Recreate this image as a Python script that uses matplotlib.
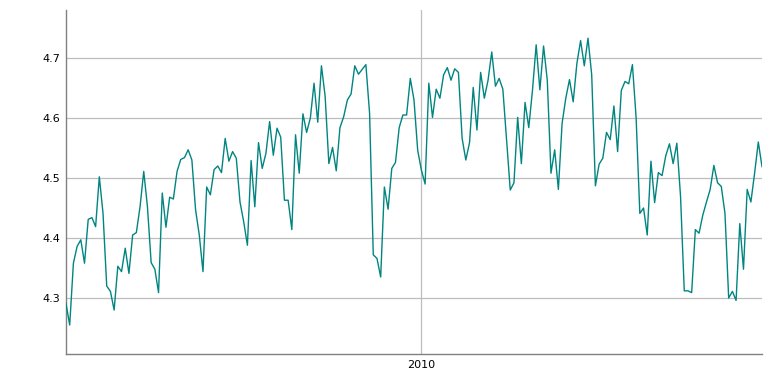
import matplotlib
matplotlib.use('Agg')
import matplotlib.pyplot as plt
import matplotlib.dates as mdates
import numpy as np
import pandas as pd

# weekly series
start_date = '2008-03-01'
values = [
    4.291, 4.255, 4.358, 4.386, 4.397, 4.358, 4.431, 4.434, 4.419, 4.502,
    4.441, 4.320, 4.311, 4.280, 4.353, 4.344, 4.383, 4.341, 4.405, 4.409,
    4.452, 4.511, 4.452, 4.359, 4.348, 4.309, 4.475, 4.418, 4.468, 4.465,
    4.511, 4.531, 4.534, 4.547, 4.530, 4.447, 4.405, 4.344, 4.485, 4.472,
    4.514, 4.520, 4.509, 4.566, 4.528, 4.544, 4.533, 4.460,
    4.427, 4.388, 4.529, 4.452, 4.559, 4.516, 4.541, 4.594, 4.538, 4.583,
    4.568, 4.463, 4.463, 4.414, 4.572, 4.508, 4.607, 4.576, 4.600, 4.658,
    4.593, 4.687, 4.636, 4.524, 4.551, 4.512, 4.584, 4.602, 4.630, 4.640,
    4.687, 4.673, 4.681, 4.689, 4.608, 4.372, 4.366, 4.335, 4.485, 4.448,
    4.516, 4.526, 4.584, 4.605, 4.605, 4.666, 4.630, 4.546, 4.513, 4.490,
    4.658,
    4.601, 4.648, 4.633, 4.672, 4.684, 4.663, 4.682, 4.676, 4.566, 4.530,
    4.559, 4.651, 4.580, 4.676, 4.633, 4.663, 4.710, 4.653, 4.666, 4.648,
    4.563, 4.480, 4.492, 4.601, 4.524, 4.626, 4.584, 4.646, 4.722, 4.647,
    4.720, 4.663, 4.508, 4.547, 4.481, 4.591, 4.633, 4.664, 4.627, 4.691,
    4.729, 4.687, 4.733, 4.672,
    4.487, 4.523, 4.533, 4.576, 4.564, 4.620, 4.544, 4.646, 4.661, 4.657,
    4.689, 4.600, 4.441, 4.450, 4.405, 4.528, 4.459, 4.509, 4.504, 4.537,
    4.557, 4.524, 4.558, 4.469, 4.312, 4.312, 4.309, 4.414, 4.408, 4.438,
    4.460, 4.481, 4.521, 4.492, 4.486, 4.441, 4.300, 4.311, 4.296, 4.424,
    4.348, 4.481, 4.460, 4.508, 4.560, 4.519,
]
dates = pd.date_range(start_date, periods=len(values), freq='7D')

y_ticks = [4.3, 4.4, 4.5, 4.6, 4.7]
x_ticks = [pd.Timestamp('2010-01-01')]

fig = plt.figure(figsize=(7.75, 3.83), dpi=100)
ax = fig.add_axes([66/775, 29/383, (762-66)/775, (354-10)/383])

ax.plot(dates, values, color='#008580', linewidth=1.0, zorder=3)

ax.set_xlim(dates[0], dates[-1])
ax.set_ylim(4.2067, 4.78)
ax.set_yticks(y_ticks)
ax.set_yticklabels(['4.3', '4.4', '4.5', '4.6', '4.7'])
ax.set_xticks(x_ticks)
ax.xaxis.set_major_formatter(mdates.DateFormatter('%Y'))

ax.grid(True, color='#bdbdbd', linewidth=0.9, zorder=0)
ax.tick_params(length=0, labelsize=8, colors='black', pad=4)
for s in ['top', 'right']:
    ax.spines[s].set_visible(False)
for s in ['left', 'bottom']:
    ax.spines[s].set_color('#808080')
    ax.spines[s].set_linewidth(1.0)

plt.savefig('out.png', dpi=100)
